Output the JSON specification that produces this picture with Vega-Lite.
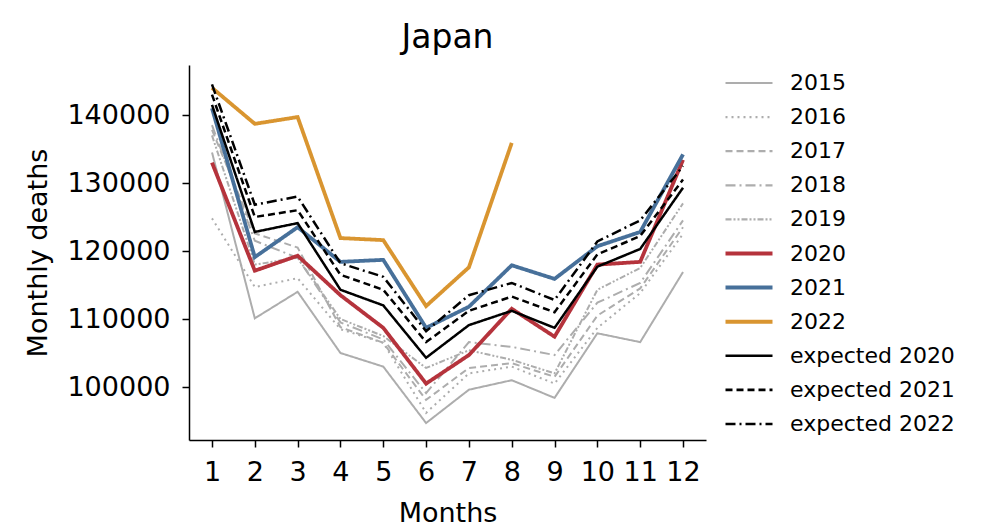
{
  "$schema": "https://vega.github.io/schema/vega-lite/v6.json",
  "width": 517,
  "height": 375,
  "padding": {"left": 24, "top": 22, "right": 5, "bottom": 5},
  "background": "white",
  "config": {
    "font": "DejaVu Sans",
    "view": {"stroke": null},
    "axis": {"grid": false, "domainColor": "black", "tickColor": "black", "labelColor": "black", "titleColor": "black", "domainWidth": 1.5, "tickWidth": 1.5, "tickSize": 7, "labelFontSize": 27, "titleFontSize": 27, "titleFontWeight": "normal"},
    "legend": {"labelFontSize": 22, "labelLimit": 400, "labelColor": "black", "symbolType": "M-2.35,0H2.35", "symbolSize": 400, "rowPadding": 12.1, "labelOffset": 30, "offset": 25, "padding": 7, "symbolStrokeWidth": 2}
  },
  "title": {"text": "Japan", "fontSize": 33, "fontWeight": "normal", "color": "black", "anchor": "middle", "offset": 10},
  "datasets": {
    "rows": [
      {"series": "2015", "values": [134500, 110100, 114000, 105000, 103000, 94700, 99600, 101000, 98400, 107900, 106600, 116900]},
      {"series": "2016", "values": [124800, 114700, 116000, 108500, 106500, 96200, 102000, 103000, 100500, 108700, 113800, 122500]},
      {"series": "2017", "values": [137800, 122600, 120500, 108800, 106500, 98100, 102800, 103500, 101500, 110500, 114500, 123500]},
      {"series": "2018", "values": [138500, 121500, 119000, 109500, 107000, 99100, 106600, 105900, 104700, 112400, 115300, 124500]},
      {"series": "2019", "values": [137000, 118000, 119000, 110000, 107500, 102800, 105400, 104000, 102000, 114300, 117500, 127000]},
      {"series": "2020", "values": [133000, 117100, 119300, 113500, 108700, 100500, 104700, 111500, 107400, 118000, 118400, 133400]},
      {"series": "2021", "values": [141000, 119100, 123500, 118400, 118700, 108700, 111800, 117900, 115900, 120700, 122800, 134200]},
      {"series": "2022", "values": [144000, 138700, 139700, 121900, 121600, 111900, 117600, 135900]},
      {"series": "expected 2020", "values": [141500, 122800, 124100, 114300, 112000, 104300, 109100, 111200, 108700, 117700, 120300, 129300]},
      {"series": "expected 2021", "values": [143000, 125000, 126000, 116500, 114300, 106600, 111200, 113300, 111000, 119500, 122200, 130500]},
      {"series": "expected 2022", "values": [144500, 126800, 128000, 118200, 116200, 108200, 113500, 115300, 112800, 121400, 124500, 132500]}
    ]
  },
  "data": {"name": "rows"},
  "transform": [
    {"flatten": ["values"], "as": ["deaths"]},
    {"window": [{"op": "row_number", "as": "month"}], "groupby": ["series"]}
  ],
  "mark": {"type": "line", "strokeCap": "butt", "strokeJoin": "miter"},
  "encoding": {
    "x": {"field": "month", "type": "quantitative", "title": "Months",
      "scale": {"domain": [0.463, 12.537], "nice": false, "zero": false},
      "axis": {"values": [1,2,3,4,5,6,7,8,9,10,11,12], "format": "d", "labelPadding": 12, "titlePadding": 15}},
    "y": {"field": "deaths", "type": "quantitative", "title": "Monthly deaths",
      "scale": {"domain": [92206, 147353], "nice": false, "zero": false},
      "axis": {"values": [100000, 110000, 120000, 130000, 140000], "format": "d", "labelPadding": 12, "titlePadding": 14}},
    "detail": {"field": "series"},
    "color": {"field": "series", "type": "nominal", "title": null,
      "scale": {"domain": ["2015","2016","2017","2018","2019","2020","2021","2022","expected 2020","expected 2021","expected 2022"],
        "range": ["#adadad","#adadad","#adadad","#adadad","#adadad","#b5333c","#47709a","#d99530","#000000","#000000","#000000"]},
      "legend": {"encode": {"symbols": {"update": {"strokeWidth": {"signal": "indexof(['2020','2021','2022'], datum.value) >= 0 ? 4 : (indexof(datum.value, 'expected') >= 0 ? 2.6 : 2.2)"}}}}}},
    "strokeDash": {"field": "series", "type": "nominal", "title": null,
      "scale": {"domain": ["2015","2016","2017","2018","2019","2020","2021","2022","expected 2020","expected 2021","expected 2022"],
        "range": [[1,0],[2,4],[7,4],[10,4,2,4],[6,2,2,2,2,2],[1,0],[1,0],[1,0],[1,0],[7,4],[10,4,2,4]]}},
    "strokeWidth": {"condition": [
      {"test": "indexof(['2020','2021','2022'], datum.series) >= 0", "value": 3.8},
      {"test": "indexof(datum.series, 'expected') >= 0", "value": 2.5}
    ], "value": 2},
    "order": {"field": "month"}
  }
}
